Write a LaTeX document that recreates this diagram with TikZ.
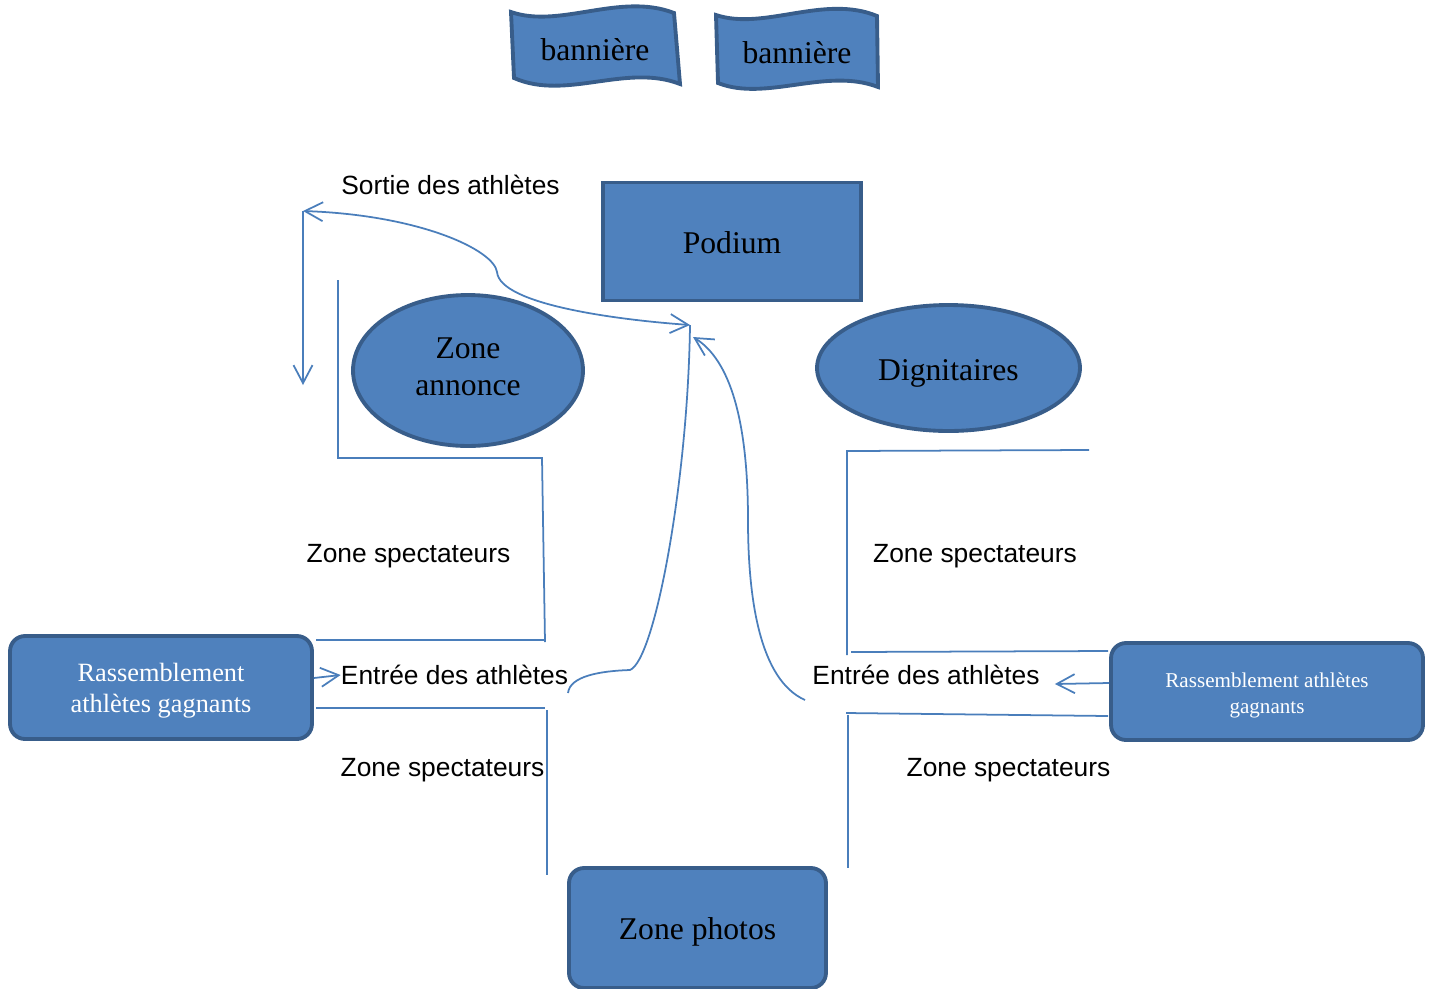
\documentclass[tikz,border=0pt]{standalone}
\usepackage{fontspec}
\setmainfont{Liberation Serif}
\setsansfont{Liberation Sans}
\usepackage{xcolor}
\usepackage{tikz}
\usetikzlibrary{arrows.meta}
\usetikzlibrary{shapes.geometric}
\definecolor{boxblue}{HTML}{4F81BD}
\definecolor{boxedge}{HTML}{385D8A}
\definecolor{linecol}{HTML}{4A7EBB}
\newcommand{\shifttext}[2]{\raisebox{#1}[\height][\depth]{#2}}
\newcommand{\twolines}[2]{\begin{tabular}{@{}c@{}}#1\\#2\end{tabular}}

\begin{document}
\begin{tikzpicture}[
    x=0.02cm, y=-0.02cm,
    >={Straight Barb[length=3.6mm, width=3.8mm]},
    shade/.style={fill=boxblue, draw=boxedge, line width=2.2pt},
    bigbox/.style={shade, rectangle, inner sep=0pt, font=\fontsize{18}{21}\selectfont},
    oval/.style={shade, ellipse, inner sep=0pt, font=\fontsize{18}{21}\selectfont},
    roundbox/.style={shade, rectangle, rounded corners=0.3cm, inner sep=0pt, text=white},
    label/.style={inner sep=0pt, font=\sffamily\fontsize{15}{18}\selectfont},
    wall/.style={draw=linecol, line width=1pt}
]
\useasboundingbox (0,0) rectangle (1434,988);

% Banners :
\draw[shade] (511,12) .. controls (560,29) and (620,-8) .. (674,13)
    -- (680,84) .. controls (626,63) and (566,101) .. (514,78) -- cycle;
\draw[shade] (716,15) .. controls (764,31) and (824,-6) .. (877,16)
    -- (878,87) .. controls (826,67) and (766,102) .. (718,83) -- cycle;
\node[font=\fontsize{18}{21}\selectfont] (ban1) at (595,50) {bannière};
\node[font=\fontsize{18}{21}\selectfont] (ban2) at (797,53) {bannière};

% Nodes :
\node[bigbox, minimum width=5.16cm, minimum height=2.36cm] (podium) at (732,241.5) {\shifttext{-0.6pt}{Podium}};
\node[oval, minimum width=4.6cm, minimum height=3.02cm] (annonce) at (468,370.5) {\shifttext{0.6pt}{\twolines{Zone}{annonce}}};
\node[oval, minimum width=5.26cm, minimum height=2.52cm] (dign) at (948.5,368) {\shifttext{-3.3pt}{Dignitaires}};
\node[roundbox, minimum width=6.04cm, minimum height=2.06cm, font=\fontsize{15}{18}\selectfont] (rassL) at (161,687.5) {\shifttext{-1.8pt}{\twolines{Rassemblement}{athlètes gagnants}}};
\node[roundbox, minimum width=6.24cm, minimum height=1.94cm, font=\fontsize{12}{14.5}\selectfont] (rassR) at (1267,691.5) {\shifttext{-2.3pt}{\twolines{Rassemblement athlètes}{gagnants}}};
\node[roundbox, text=black, minimum width=5.14cm, minimum height=2.4cm, font=\fontsize{18}{21}\selectfont] (photos) at (697.5,928) {\shifttext{-2.3pt}{Zone photos}};

% Labels :
\node[label] (sortie) at (450.5,185) {Sortie des athlètes};
\node[label] (specA) at (408.5,556) {Zone spectateurs};
\node[label] (specB) at (975,556) {Zone spectateurs};
\node[label] (specC) at (442.5,770) {Zone spectateurs};
\node[label] (specD) at (1008.5,770) {Zone spectateurs};
\node[label] (entreeL) at (454.5,675) {Entrée des athlètes};
\node[label] (entreeR) at (926,675) {Entrée des athlètes};

% Walls :
\draw[wall] (338,280) -- (338,458) -- (542,458) -- (545,642);
\draw[wall] (316,640) -- (545,640);
\draw[wall] (316,708) -- (545,708);
\draw[wall] (547,710) -- (547,875);
\draw[wall] (1089,450) -- (847,451) -- (847,655);
\draw[wall] (851,652) -- (1108,651);
\draw[wall] (1108,716) -- (846,713);
\draw[wall] (848,715) -- (848,868);

% Paths :
\coordinate (meet) at (690,325);
\coordinate (tipR) at (693,337);
\coordinate (exitC) at (303,211);
\coordinate (exitD) at (303,385);
\coordinate (startL) at (568,693);
\coordinate (startR) at (805,700);

\draw[wall, ->] (rassL.east |- 0,678) -- (entreeL.west);
\draw[wall, ->] (rassR.west |- 0,683) -- ([xshift=0.3cm]entreeR.east |- 0,684);
\draw[wall] (startL) .. controls (570,676) and (600,671) .. (630,670)
    .. controls (655,660) and (688,480) .. (meet);
\draw[wall, ->] (startR) .. controls (760,680) and (748,600) .. (748,520)
    .. controls (748,420) and (730,360) .. (tipR);
\draw[wall, <->] (meet) .. controls (620,320) and (500,305) .. (497,272)
    .. controls (494,250) and (420,215) .. (exitC);
\draw[wall, ->] (exitC) -- (exitD);

\end{tikzpicture}
\end{document}
